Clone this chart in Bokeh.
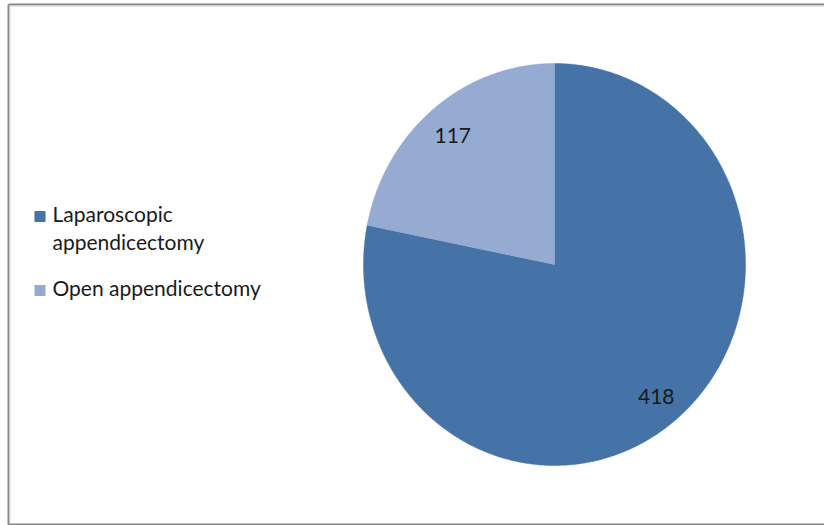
import math
from bokeh.plotting import figure
from bokeh.models import Range1d, ColumnDataSource
from bokeh.core.properties import value
from bokeh.embed import file_html
from bokeh.resources import INLINE

# ---- data ----
categories = ["Laparoscopic appendicectomy", "Open appendicectomy"]
legend_labels = ["Laparoscopic\nappendicectomy", "Open appendicectomy"]
counts = [418, 117]
colors = ["#4573A7", "#95ABD1"]

# ---- layout (pixel space) ----
W, H = 824, 525
CX, CY, RX, RY = 554, 264, 191, 201
LABEL_R = 0.84
FONT = "Lato"

p = figure(width=W, height=H, output_backend="svg", toolbar_location=None,
           x_range=Range1d(0, W), y_range=Range1d(H, 0), min_border=0)
p.axis.visible = False
p.grid.visible = False
p.outline_line_color = None
p.background_fill_color = "white"
p.border_fill_color = "white"

# frame
p.line(x=[8, 8], y=[4, 524], line_color="#878787", line_width=2)
p.line(x=[8, W + 2], y=[4, 4], line_color="#878787", line_width=2)
p.line(x=[8, W + 2], y=[524, 524], line_color="#878787", line_width=2)
p.line(x=[9.5, 9.5], y=[5, 522], line_color="#d4d4d4", line_width=1)
p.line(x=[9, W + 2], y=[5.5, 5.5], line_color="#d4d4d4", line_width=1)

# pie slices (clockwise from 12 o'clock)
total = float(sum(counts))
xs, ys, lx, ly = [], [], [], []
start = 0.0
for c in counts:
    span = 2 * math.pi * c / total
    n = max(8, int(span * 90))
    px, py = [CX], [CY]
    for i in range(n + 1):
        t = start + span * i / n
        px.append(CX + RX * math.sin(t))
        py.append(CY - RY * math.cos(t))
    xs.append(px)
    ys.append(py)
    mid = start + span / 2
    lx.append(CX + LABEL_R * RX * math.sin(mid))
    ly.append(CY - LABEL_R * RY * math.cos(mid))
    start += span

src = ColumnDataSource(dict(xs=xs, ys=ys, color=colors, name=categories))
p.patches("xs", "ys", fill_color="color", line_color="color", line_width=0.5, source=src)

p.text(x=lx, y=[v + 1.5 for v in ly], text=[str(c) for c in counts], text_font=value(FONT),
       text_font_size="21px", text_color="#1a1a1a", text_align="center",
       text_baseline="middle")

# legend
sq_y = [216, 290]
p.rect(x=[39.5, 39.5], y=sq_y, width=11, height=11, fill_color=colors, line_color=None)
tx, ty, tt = [], [], []
base = [213, 287]
for lab, b in zip(legend_labels, base):
    for k, line in enumerate(lab.split("\n")):
        tx.append(52)
        ty.append(b + 27.5 * k)
        tt.append(line)
p.text(x=tx, y=ty, text=tt, text_font=value(FONT), text_font_size="21px",
       text_color="#1a1a1a", text_align="left", text_baseline="alphabetic")

open("out.html", "w").write(file_html(p, INLINE))
